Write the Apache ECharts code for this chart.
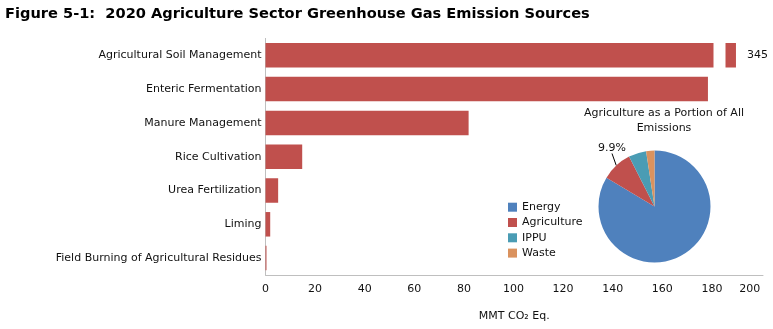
<!DOCTYPE html>
<html><head><meta charset="utf-8">
<script src="https://cdn.jsdelivr.net/npm/echarts@6/dist/echarts.min.js"></script>
<style>html,body{margin:0;padding:0;background:#fff}#c{width:773px;height:329px}</style>
</head><body><div id="c"></div>
<script>
const titleText = 'Figure 5-1:  2020 Agriculture Sector Greenhouse Gas Emission Sources';
const categories = ['Agricultural Soil Management','Enteric Fermentation','Manure Management','Rice Cultivation','Urea Fertilization','Liming','Field Burning of Agricultural Residues'];
const emissions = [345, 178.4, 81.9, 14.8, 5.1, 1.9, 0.4];
const tickValues = [0,20,40,60,80,100,120,140,160,180,350.6];
const tickLabels = ['0','20','40','60','80','100','120','140','160','180','200'];
const axisName = 'MMT CO₂ Eq.';
const pieTitle = 'Agriculture as a Portion of All\nEmissions';
const sectors = ['Energy','Agriculture','IPPU','Waste'];
const sectorShares = [83.6, 8.9, 5.1, 2.4];
const sectorLabels = ['', '9.9%', '', ''];
const sectorColors = ['#4F81BD','#C0504D','#4A9CB4','#DA925E'];

const FONT = 'DejaVu Sans';
const TXT = '#111';
const chart = echarts.init(document.getElementById('c'), null, {renderer:'canvas'});
chart.setOption({
  animation: false,
  textStyle: {fontFamily: FONT},
  title: [
    {text: titleText, left: 0, top: 2, zlevel: 1, textStyle: {fontFamily: FONT, fontSize: 14.6, fontWeight: 'bold', color: '#000'}},
    {text: pieTitle, left: 659, top: 101, textAlign: 'center', zlevel: 1, textStyle: {fontFamily: FONT, fontSize: 11, fontWeight: 'normal', color: TXT, lineHeight: 15}}
  ],
  legend: {
    data: sectors, orient: 'vertical', left: 503, top: 196.7, zlevel: 1,
    itemWidth: 9, itemHeight: 9, itemGap: 4.3, icon: 'rect',
    textStyle: {fontFamily: FONT, fontSize: 11, color: TXT}
  },
  grid: {left: 265.5, top: 38.4, right: 10, bottom: 54, containLabel: false},
  xAxis: [{
    type: 'value', min: 0, max: 355.9,
    breaks: [{start: 180.5, end: 340.6, gap: 4.8}],
    breakArea: {show: true, zigzagAmplitude: 0, itemStyle: {color: '#fff', borderColor: '#fff', borderWidth: 0, opacity: 1}},
    axisLine: {show: false},
    axisTick: {show: false},
    splitLine: {show: false},
    axisLabel: {
      customValues: tickValues,
      formatter: v => { const i = tickValues.findIndex(t => Math.abs(t - v) < 1e-6); return i >= 0 ? tickLabels[i] : ''; },
      fontFamily: FONT, fontSize: 11, color: TXT, margin: 9
    },
    name: axisName, nameLocation: 'middle', nameGap: 36,
    nameTextStyle: {fontFamily: FONT, fontSize: 11, color: TXT}
  }, {
    type: 'value', position: 'bottom', min: 0, max: 1, zlevel: 1,
    axisLine: {show: true, lineStyle: {color: '#bfbfbf', width: 1}},
    axisTick: {show: false}, axisLabel: {show: false}, splitLine: {show: false}
  }],
  yAxis: {
    type: 'category', data: categories, inverse: true,
    axisLine: {show: true, lineStyle: {color: '#bfbfbf', width: 1}},
    axisTick: {show: false},
    axisLabel: {fontFamily: FONT, fontSize: 11, color: TXT, margin: 4}
  },
  series: [
    {
      type: 'bar', barWidth: 24.5, xAxisIndex: 0,
      itemStyle: {color: '#C0504D'},
      data: emissions.map((v, i) => i === 0 ? {value: v, label: {show: true, position: 'right', distance: 11, formatter: '{c}', fontFamily: FONT, fontSize: 11, color: TXT}} : v)
    },
    {
      type: 'pie', center: [654.5, 206.5], radius: 56, startAngle: 90, clockwise: true, zlevel: 1,
      avoidLabelOverlap: false,
      itemStyle: {borderWidth: 0},
      label: {show: false},
      labelLine: {show: false},
      labelLayout: p => p.dataIndex === 1 ? {x: 612, y: 148, align: 'center', verticalAlign: 'middle'} : {},
      data: sectors.map((n, i) => ({
        name: n, value: sectorShares[i], itemStyle: {color: sectorColors[i]},
        label: {show: sectorLabels[i] !== '', position: 'outside', formatter: () => sectorLabels[i], fontFamily: FONT, fontSize: 11, color: TXT},
        labelLine: {show: sectorLabels[i] !== '', length: 5, length2: 0, lineStyle: {color: '#000', width: 1}}
      }))
    }
  ]
});
</script></body></html>
